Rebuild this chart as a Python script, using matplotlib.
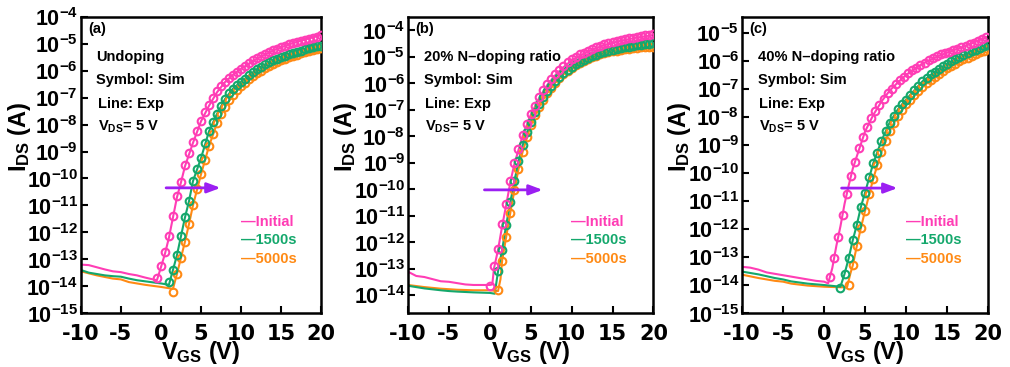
import numpy as np
import matplotlib
matplotlib.use("Agg")
from matplotlib import pyplot as plt
from matplotlib.ticker import FixedLocator, NullLocator, FuncFormatter

plt.rcParams['mathtext.fontset'] = 'custom'
plt.rcParams['mathtext.rm'] = 'Liberation Sans'
plt.rcParams['mathtext.bf'] = 'Liberation Sans:bold'
plt.rcParams['mathtext.default'] = 'bf'
plt.rcParams['axes.unicode_minus'] = False

PINK = '#FF3DB5'
GREEN = '#14A86C'
ORANGE = '#FF8A14'
PURPLE = '#9B1FF2'

labels = ['Initial', '1500s', '5000s']

# ---------------- panel (a): undoping (values are log10 of I_DS) ----------------
a_pink_exp_v = [-10, -9, -8, -7, -6, -5, -4, -3, -2, -1, -0.5, 0, 0.5, 1, 1.5, 2, 2.5, 3, 4, 5, 6, 7, 8, 9, 10, 12, 14, 16, 18, 20]
a_pink_exp_i = [-13.2, -13.22, -13.3, -13.38, -13.45, -13.48, -13.55, -13.6, -13.68, -13.75, -13.78, -13.3, -12.8,
                -12.2, -11.45, -10.7, -10.15, -9.55, -8.68, -7.88, -7.3, -6.8, -6.42, -6.15, -5.93, -5.55, -5.25, -5.02, -4.84, -4.68]
a_green_exp_v = [-10, -9, -8, -7, -6, -5, -4, -3, -2, -1, 0, 1, 1.5, 2, 2.5, 3, 3.5, 4, 5, 6, 7, 8, 9, 10, 12, 14, 16, 18, 20]
a_green_exp_i = [-13.4, -13.5, -13.55, -13.6, -13.63, -13.65, -13.72, -13.78, -13.82, -13.86, -13.9, -13.95, -13.4, -12.85,
                 -12.15, -11.45, -10.85, -10.1, -9.25, -8.25, -7.6, -7.05, -6.66, -6.41, -5.94, -5.62, -5.39, -5.21, -5.07]
a_orange_exp_v = [-10, -8, -6, -5, -4, -2, 0, 1.5, 2, 2.5, 3, 3.5, 4, 5, 6, 7, 8, 9, 10, 12, 14, 16, 18, 20]
a_orange_exp_i = [-13.45, -13.6, -13.72, -13.75, -13.85, -13.95, -14.03, -14.1, -13.55, -12.95, -12.35, -11.7, -11.0,
                  -9.85, -8.8, -7.95, -7.35, -6.9, -6.57, -6.1, -5.76, -5.5, -5.3, -5.15]

a_pink_sim_v = [-0.5, 0, 0.5, 1, 1.5, 2, 2.5, 3, 3.5, 4, 4.5, 5, 5.5, 6, 6.5, 7, 7.5, 8, 8.5, 9, 9.5, 10, 10.5, 11,
                11.5, 12, 12.5, 13, 13.5, 14, 14.5, 15, 15.5, 16, 16.5, 17, 17.5, 18, 18.5, 19, 19.5, 20]
a_pink_sim_i = [-13.7, -13.25, -12.75, -12.15, -11.4, -10.65, -10.15, -9.5, -9.05, -8.66, -8.23, -7.86, -7.55, -7.27,
                -7.0, -6.77, -6.56, -6.4, -6.26, -6.14, -6.03, -5.92, -5.82, -5.71, -5.61, -5.53, -5.46, -5.38, -5.31,
                -5.24, -5.18, -5.12, -5.07, -5.02, -4.97, -4.93, -4.89, -4.85, -4.81, -4.77, -4.73, -4.69]
a_green_sim_v = [1, 1.5, 2, 2.5, 3, 3.5, 4, 4.5, 5, 5.5, 6, 6.5, 7, 7.5, 8, 8.5, 9, 9.5, 10, 10.5, 11, 11.5, 12,
                 12.5, 13, 13.5, 14, 14.5, 15, 15.5, 16, 16.5, 17, 17.5, 18, 18.5, 19, 19.5, 20]
a_green_sim_i = [-13.85, -13.4, -12.85, -12.15, -11.45, -10.85, -10.1, -9.65, -9.25, -8.7, -8.25, -7.92, -7.6, -7.3,
                 -7.05, -6.82, -6.66, -6.52, -6.41, -6.3, -6.17, -6.04, -5.94, -5.85, -5.75, -5.68, -5.62, -5.56, -5.5,
                 -5.44, -5.39, -5.34, -5.29, -5.25, -5.21, -5.17, -5.13, -5.1, -5.07]
a_orange_sim_v = [1.5, 2, 2.5, 3, 3.5, 4, 4.5, 5, 5.5, 6, 6.5, 7, 7.5, 8, 8.5, 9, 9.5, 10, 10.5, 11, 11.5, 12, 12.5,
                  13, 13.5, 14, 14.5, 15, 15.5, 16, 16.5, 17, 17.5, 18, 18.5, 19, 19.5, 20]
a_orange_sim_i = [-14.2, -13.55, -12.95, -12.35, -11.7, -11.0, -10.4, -9.85, -9.3, -8.8, -8.35, -7.95, -7.62, -7.35,
                  -7.1, -6.9, -6.72, -6.57, -6.44, -6.32, -6.2, -6.1, -6.0, -5.91, -5.83, -5.76, -5.69, -5.62, -5.56,
                  -5.5, -5.45, -5.4, -5.35, -5.3, -5.26, -5.22, -5.18, -5.15]

# ---------------- panel (b): 20% N-doping ----------------
b_pink_exp_v = [-10, -9, -8, -7, -6, -5, -4, -3, -2, -1, 0, 0.3, 0.5, 1, 1.5, 2, 2.5, 3, 4, 5, 6, 7, 8, 9, 10, 12, 14, 16, 18, 20]
b_pink_exp_i = [-13.12, -13.28, -13.32, -13.4, -13.48, -13.5, -13.55, -13.6, -13.62, -13.62, -13.62, -13.6, -13.0,
                -12.3, -11.4, -10.6, -9.75, -9.05, -8.0, -7.2, -6.58, -6.08, -5.7, -5.4, -5.14, -4.8, -4.56, -4.4, -4.28, -4.18]
b_green_exp_v = [-10, -8, -6, -5, -4, -2, 0, 0.6, 1, 1.5, 2, 2.5, 3, 3.5, 4, 5, 6, 7, 8, 9, 10, 12, 14, 16, 18, 20]
b_green_exp_i = [-13.65, -13.75, -13.82, -13.85, -13.87, -13.9, -13.92, -13.95, -13.1, -12.3, -11.35, -10.5, -9.7,
                 -8.95, -8.35, -7.45, -6.8, -6.3, -5.92, -5.62, -5.38, -5.05, -4.83, -4.68, -4.58, -4.5]
b_orange_exp_v = [-10, -8, -6, -4, -2, 0, 1, 1.3, 1.5, 2, 2.5, 3, 3.5, 4, 5, 6, 7, 8, 9, 10, 12, 14, 16, 18, 20]
b_orange_exp_i = [-13.62, -13.7, -13.76, -13.8, -13.82, -13.82, -13.85, -13.4, -12.7, -11.8, -10.9, -10.05, -9.25,
                  -8.6, -7.6, -6.9, -6.38, -5.98, -5.67, -5.43, -5.09, -4.88, -4.75, -4.67, -4.62]

b_pink_sim_v = [0, 0.5, 1, 1.5, 2, 2.5, 3, 3.5, 4, 4.5, 5, 5.5, 6, 6.5, 7, 7.5, 8, 8.5, 9, 9.5, 10, 10.5, 11, 11.5,
                12, 12.5, 13, 13.5, 14, 14.5, 15, 15.5, 16, 16.5, 17, 17.5, 18, 18.5, 19, 19.5, 20]
b_pink_sim_i = [-13.65, -12.9, -12.25, -11.3, -10.55, -9.7, -9.0, -8.48, -7.95, -7.55, -7.15, -6.86, -6.53, -6.26,
                -6.04, -5.85, -5.67, -5.5, -5.36, -5.22, -5.1, -5.0, -4.92, -4.85, -4.78, -4.71, -4.65, -4.59, -4.54,
                -4.49, -4.45, -4.41, -4.37, -4.34, -4.31, -4.28, -4.25, -4.22, -4.2, -4.18, -4.16]
b_green_sim_v = [1, 1.5, 2, 2.5, 3, 3.5, 4, 4.5, 5, 5.5, 6, 6.5, 7, 7.5, 8, 8.5, 9, 9.5, 10, 10.5, 11, 11.5, 12,
                 12.5, 13, 13.5, 14, 14.5, 15, 15.5, 16, 16.5, 17, 17.5, 18, 18.5, 19, 19.5, 20]
b_green_sim_i = [-13.1, -12.3, -11.35, -10.5, -9.7, -8.95, -8.35, -7.85, -7.45, -7.1, -6.8, -6.53, -6.3, -6.1, -5.92,
                 -5.76, -5.62, -5.49, -5.38, -5.28, -5.2, -5.12, -5.05, -4.99, -4.93, -4.88, -4.83, -4.79, -4.75, -4.71,
                 -4.68, -4.65, -4.62, -4.6, -4.58, -4.56, -4.54, -4.52, -4.5]
b_orange_sim_v = [1, 1.5, 2, 2.5, 3, 3.5, 4, 4.5, 5, 5.5, 6, 6.5, 7, 7.5, 8, 8.5, 9, 9.5, 10, 10.5, 11, 11.5, 12,
                  12.5, 13, 13.5, 14, 14.5, 15, 15.5, 16, 16.5, 17, 17.5, 18, 18.5, 19, 19.5, 20]
b_orange_sim_i = [-13.8, -12.7, -11.8, -10.9, -10.05, -9.25, -8.6, -8.05, -7.6, -7.22, -6.9, -6.62, -6.38, -6.17,
                  -5.98, -5.81, -5.67, -5.54, -5.43, -5.33, -5.24, -5.16, -5.09, -5.03, -4.97, -4.92, -4.88, -4.84,
                  -4.8, -4.77, -4.75, -4.72, -4.7, -4.68, -4.66, -4.65, -4.64, -4.63, -4.62]

# ---------------- panel (c): 40% N-doping ----------------
c_pink_exp_v = [-10, -9, -8, -7, -6, -5, -4, -3, -2, -1, 0, 0.5, 1, 1.5, 2, 2.5, 3, 3.5, 4, 5, 6, 7, 8, 9, 10, 12, 14, 16, 18, 20]
c_pink_exp_i = [-13.35, -13.38, -13.45, -13.55, -13.6, -13.65, -13.7, -13.75, -13.8, -13.85, -13.88, -13.94, -13.4,
                -12.6, -11.9, -11.1, -10.45, -9.85, -9.4, -8.52, -7.93, -7.45, -7.06, -6.77, -6.5, -6.1, -5.82, -5.6, -5.38, -5.13]
c_green_exp_v = [-10, -8, -6, -5, -4, -2, 0, 1, 2, 2.5, 3, 3.5, 4, 4.5, 5, 6, 7, 8, 9, 10, 12, 14, 16, 18, 20]
c_green_exp_i = [-13.52, -13.62, -13.75, -13.8, -13.87, -13.95, -14.0, -14.03, -14.06, -13.6, -13.05, -12.4, -11.85,
                 -11.2, -10.7, -9.65, -8.85, -8.2, -7.73, -7.38, -6.73, -6.29, -5.94, -5.66, -5.42]
c_orange_exp_v = [-10, -8, -6, -5, -4, -2, 0, 2, 2.8, 3.2, 3.5, 4, 4.5, 5, 6, 7, 8, 9, 10, 12, 14, 16, 18, 20]
c_orange_exp_i = [-13.63, -13.75, -13.85, -13.88, -13.95, -14.02, -14.06, -14.08, -14.08, -13.6, -13.3, -12.6,
                  -11.95, -11.35, -10.2, -9.25, -8.5, -7.95, -7.55, -6.93, -6.46, -6.1, -5.81, -5.59]

c_pink_sim_v = [0.75, 1.25, 1.75, 2.25, 2.75, 3.25, 3.75, 4.25, 4.75, 5.25, 5.75, 6.25, 6.75, 7.25, 7.75, 8.25,
                8.75, 9.25, 9.75, 10.25, 10.75, 11.25, 11.75, 12.25, 12.75, 13.25, 13.75, 14.25, 14.75, 15.25,
                15.75, 16.25, 16.75, 17.25, 17.75, 18.25, 18.75, 19.25, 19.75]
c_pink_sim_i = [-13.7, -13.05, -12.3, -11.5, -10.75, -10.1, -9.6, -9.1, -8.7, -8.35, -8.05, -7.8, -7.57, -7.35,
                -7.16, -6.99, -6.84, -6.7, -6.57, -6.45, -6.34, -6.24, -6.15, -6.06, -5.98, -5.9, -5.82, -5.77,
                -5.72, -5.67, -5.62, -5.57, -5.52, -5.46, -5.41, -5.35, -5.29, -5.23, -5.16]
c_green_sim_v = [2, 2.5, 3, 3.5, 4, 4.5, 5, 5.5, 6, 6.5, 7, 7.5, 8, 8.5, 9, 9.5, 10, 10.5, 11, 11.5, 12, 12.5, 13,
                 13.5, 14, 14.5, 15, 15.5, 16, 16.5, 17, 17.5, 18, 18.5, 19, 19.5, 20]
c_green_sim_i = [-14.1, -13.6, -13.05, -12.4, -11.85, -11.2, -10.7, -10.15, -9.65, -9.28, -8.85, -8.5, -8.2, -7.95,
                 -7.73, -7.55, -7.38, -7.22, -7.05, -6.88, -6.73, -6.6, -6.48, -6.38, -6.29, -6.2, -6.1, -6.02, -5.94,
                 -5.87, -5.8, -5.73, -5.66, -5.6, -5.53, -5.47, -5.42]
c_orange_sim_v = [3, 3.5, 4, 4.5, 5, 5.5, 6, 6.5, 7, 7.5, 8, 8.5, 9, 9.5, 10, 10.5, 11, 11.5, 12, 12.5, 13, 13.5,
                  14, 14.5, 15, 15.5, 16, 16.5, 17, 17.5, 18, 18.5, 19, 19.5, 20]
c_orange_sim_i = [-14.0, -13.3, -12.6, -11.95, -11.35, -10.75, -10.2, -9.7, -9.25, -8.85, -8.5, -8.2, -7.95, -7.74,
                  -7.55, -7.38, -7.22, -7.07, -6.93, -6.8, -6.68, -6.57, -6.46, -6.36, -6.27, -6.18, -6.1, -6.02,
                  -5.95, -5.88, -5.81, -5.75, -5.69, -5.64, -5.59]

panels = [
    dict(tag='(a)', title='Undoping',
         exp=[(a_pink_exp_v, a_pink_exp_i), (a_green_exp_v, a_green_exp_i), (a_orange_exp_v, a_orange_exp_i)],
         sim=[(a_pink_sim_v, a_pink_sim_i), (a_green_sim_v, a_green_sim_i), (a_orange_sim_v, a_orange_sim_i)],
         ylim=(-15, -4), yticks=range(-15, -3), arrow=(0.3, 7.8, -10.35),
         pos=[0.080, 0.147, 0.238, 0.807]),
    dict(tag='(b)', title='20% N\u2013doping ratio',
         exp=[(b_pink_exp_v, b_pink_exp_i), (b_green_exp_v, b_green_exp_i), (b_orange_exp_v, b_orange_exp_i)],
         sim=[(b_pink_sim_v, b_pink_sim_i), (b_green_sim_v, b_green_sim_i), (b_orange_sim_v, b_orange_sim_i)],
         ylim=(-14.68, -3.5), yticks=range(-14, -3), arrow=(-1.0, 6.8, -10.03),
         pos=[0.404, 0.147, 0.243, 0.807]),
    dict(tag='(c)', title='40% N\u2013doping ratio',
         exp=[(c_pink_exp_v, c_pink_exp_i), (c_green_exp_v, c_green_exp_i), (c_orange_exp_v, c_orange_exp_i)],
         sim=[(c_pink_sim_v, c_pink_sim_i), (c_green_sim_v, c_green_sim_i), (c_orange_sim_v, c_orange_sim_i)],
         ylim=(-15, -4.43), yticks=range(-15, -4), arrow=(1.8, 9.3, -10.54),
         pos=[0.7347, 0.147, 0.2436, 0.807]),
]

colors = [PINK, GREEN, ORANGE]
TXT = dict(family='Liberation Sans', weight='bold', size=10.5)
LAB = dict(family='Liberation Sans', weight='bold')

fig = plt.figure(figsize=(10.10, 3.67), dpi=100)

for p in panels:
    ax = fig.add_axes(p['pos'])
    ax.set_yscale('log')
    # draw orange first so pink sits on top
    for k in [2, 1, 0]:
        ev, ei = p['exp'][k]
        sv, si = p['sim'][k]
        ax.plot(ev, 10.0 ** np.array(ei), '-', color=colors[k], lw=1.5, zorder=2)
        ax.plot(sv, 10.0 ** np.array(si), 'o', mfc='none', mec=colors[k], mew=1.5, ms=5.5, zorder=3)

    x0, x1, yy = p['arrow']
    ax.annotate('', xy=(x1, 10 ** yy), xytext=(x0, 10 ** yy),
                arrowprops=dict(arrowstyle='-|>,head_length=0.8,head_width=0.3', color=PURPLE, lw=2),
                zorder=5)

    ax.set_xlim(-10, 20)
    ax.set_ylim(10 ** p['ylim'][0], 10 ** p['ylim'][1])
    ax.set_xticks([-10, -5, 0, 5, 10, 15, 20])
    ax.yaxis.set_major_locator(FixedLocator([10.0 ** k for k in p['yticks']]))
    ax.yaxis.set_minor_locator(NullLocator())
    ax.yaxis.set_major_formatter(FuncFormatter(lambda v, pos: r'$\mathbf{10^{%d}}$' % int(round(np.log10(v)))))
    ax.tick_params(direction='in', length=5, width=1.5)
    ax.tick_params(axis='y', labelsize=15.5, pad=2)
    ax.tick_params(axis='x', labelsize=15, pad=8)
    for lab in ax.get_xticklabels():
        lab.set_fontweight('bold')
        lab.set_family('DejaVu Sans')
    for sp in ax.spines.values():
        sp.set_linewidth(1.8)

    ax.set_xlabel(r'$\mathregular{V_{GS}}$ (V)', fontsize=17, **LAB)
    ax.xaxis.set_label_coords(0.5, -0.088)
    ax.set_ylabel(r'$\mathregular{I_{DS}}$ (A)', fontsize=17, **LAB)
    ax.yaxis.set_label_coords(-0.2, 0.595)

    ax.text(0.03, 0.958, p['tag'], transform=ax.transAxes, va='center', ha='left', **TXT)
    ax.text(0.065, 0.866, p['title'], transform=ax.transAxes, va='center', ha='left', **TXT)
    ax.text(0.065, 0.787, 'Symbol: Sim', transform=ax.transAxes, va='center', ha='left', **TXT)
    ax.text(0.07, 0.706, 'Line: Exp', transform=ax.transAxes, va='center', ha='left', **TXT)
    ax.text(0.07, 0.628, r'$\mathregular{V_{DS}}$= 5 V', transform=ax.transAxes, va='center', ha='left', **TXT)

    for k, (lab, yf) in enumerate(zip(labels, [0.308, 0.247, 0.182])):
        ax.text(0.665, yf, '\u2014' + lab, color=colors[k], transform=ax.transAxes,
                va='center', ha='left', **TXT)

fig.savefig('out.png', dpi=100)
